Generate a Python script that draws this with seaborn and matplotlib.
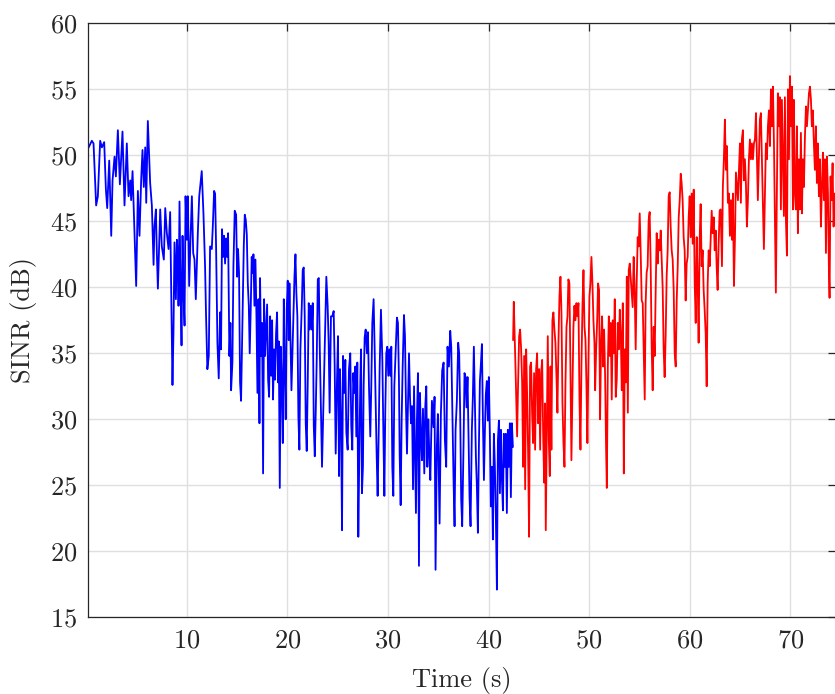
import matplotlib
matplotlib.use("Agg")
import matplotlib.pyplot as plt
import pandas as pd
import seaborn as sns

# --- first half of the drive (blue) ---
t_first = [
    0.17, 0.55, 0.72, 0.98, 1.15, 1.38, 1.55, 1.78, 1.95, 2.08, 2.28, 2.48, 2.61, 2.81, 2.94,
    3.14, 3.34, 3.60, 3.80, 4.03, 4.20, 4.37, 4.46, 4.60, 4.80, 4.96, 5.13, 5.29, 5.46, 5.59,
    5.72, 5.86, 5.96, 6.12, 6.35, 6.52, 6.69, 6.78, 6.92, 7.02, 7.12, 7.25, 7.35, 7.51, 7.71,
    7.85, 8.01, 8.18, 8.34, 8.44, 8.57, 8.67, 8.77, 8.91, 9.01, 9.11, 9.17, 9.27, 9.37, 9.47,
    9.57, 9.67, 9.77, 9.87, 10.00, 10.10, 10.23, 10.36, 10.50, 10.63, 10.76, 10.89, 11.09, 11.23,
    11.48, 11.65, 11.81, 11.91, 12.04, 12.18, 12.31, 12.48, 12.58, 12.71, 12.81, 12.91, 13.04,
    13.17, 13.31, 13.40, 13.50, 13.60, 13.70, 13.80, 13.90, 14.00, 14.10, 14.23, 14.33, 14.40,
    14.53, 14.63, 14.76, 14.90, 15.00, 15.09, 15.19, 15.29, 15.39, 15.49, 15.56, 15.66, 15.76,
    15.86, 15.96, 16.06, 16.16, 16.25, 16.35, 16.45, 16.55, 16.62, 16.72, 16.82, 16.92, 17.02,
    17.12, 17.22, 17.28, 17.38, 17.48, 17.58, 17.68, 17.78, 17.88, 17.98, 18.08, 18.18, 18.28,
    18.38, 18.48, 18.57, 18.67, 18.77, 18.87, 18.97, 19.07, 19.14, 19.24, 19.34, 19.44, 19.54,
    19.64, 19.73, 19.83, 19.93, 20.03, 20.13, 20.20, 20.30, 20.40, 20.50, 20.60, 20.70, 20.80,
    20.89, 20.99, 21.09, 21.19, 21.29, 21.43, 21.52, 21.62, 21.72, 21.82, 21.92, 22.02, 22.12,
    22.22, 22.32, 22.42, 22.52, 22.62, 22.72, 22.82, 22.92, 23.02, 23.12, 23.22, 23.44, 23.67,
    23.87, 24.00, 24.10, 24.20, 24.33, 24.46, 24.60, 24.70, 24.80, 24.93, 25.03, 25.13, 25.23,
    25.33, 25.43, 25.53, 25.66, 25.76, 25.86, 25.99, 26.12, 26.25, 26.35, 26.45, 26.55, 26.65,
    26.75, 26.85, 26.95, 27.05, 27.15, 27.25, 27.32, 27.41, 27.51, 27.58, 27.68, 27.78, 27.91,
    28.01, 28.11, 28.24, 28.34, 28.44, 28.57, 28.67, 28.77, 28.87, 28.97, 29.07, 29.17, 29.30,
    29.44, 29.54, 29.64, 29.73, 29.83, 29.93, 30.03, 30.13, 30.23, 30.33, 30.43, 30.53, 30.63,
    30.76, 30.89, 30.99, 31.09, 31.16, 31.26, 31.36, 31.46, 31.59, 31.69, 31.79, 31.89, 31.99,
    32.09, 32.19, 32.29, 32.39, 32.49, 32.59, 32.68, 32.78, 32.88, 32.98, 33.08, 33.18, 33.28,
    33.38, 33.48, 33.61, 33.71, 33.81, 33.91, 34.01, 34.11, 34.21, 34.37, 34.53, 34.63, 34.73,
    34.86, 34.96, 35.13, 35.26, 35.39, 35.53, 35.66, 35.79, 35.92, 36.06, 36.19, 36.29, 36.39,
    36.52, 36.62, 36.72, 36.85, 36.98, 37.08, 37.18, 37.28, 37.38, 37.51, 37.61, 37.71, 37.81,
    37.91, 38.01, 38.11, 38.21, 38.34, 38.44, 38.54, 38.64, 38.74, 38.84, 38.94, 39.04, 39.14,
    39.24, 39.34, 39.44, 39.54, 39.64, 39.73, 39.83, 39.93, 40.03, 40.13, 40.23, 40.33, 40.43,
    40.53, 40.63, 40.73, 40.83, 40.93, 41.03, 41.13, 41.23, 41.33, 41.43, 41.52, 41.62, 41.72,
    41.82, 41.92, 42.02, 42.12, 42.22, 42.32, 42.42,
]
sinr_first = [
    50.5, 51.1, 50.9, 46.2, 46.9, 51.1, 50.6, 51.0, 47.4, 46.0, 49.6, 43.9, 48.1, 49.9, 48.4,
    51.9, 47.8, 51.8, 46.2, 50.9, 46.9, 48.1, 46.6, 48.8, 43.9, 40.1, 47.3, 43.9, 48.2, 50.4,
    47.6, 50.6, 46.4, 52.6, 47.9, 46.2, 41.7, 44.6, 45.9, 42.5, 39.9, 43.4, 45.9, 43.1, 42.1,
    46.0, 44.1, 42.9, 45.7, 40.2, 32.6, 36.6, 43.4, 39.1, 43.6, 42.1, 38.6, 46.5, 40.1, 35.6,
    43.9, 39.6, 37.1, 46.9, 43.6, 46.9, 40.1, 43.6, 46.9, 42.6, 42.1, 39.1, 44.1, 46.9,
    48.8, 45.6, 41.6, 37.8, 33.8, 34.8, 43.1, 42.9, 44.6, 47.3, 47.1, 42.9, 35.8,
    33.1, 38.1, 35.3, 44.4, 42.3, 43.9, 41.8, 43.7, 42.3, 44.1, 34.8, 37.3, 32.2,
    34.3, 41.6, 45.8, 45.5, 40.8, 42.9, 41.1, 32.8, 31.4, 35.8, 38.8, 43.1, 45.5,
    45.1, 44.0, 40.3, 38.6, 35.0, 38.3, 42.3, 41.1, 42.5, 38.6, 42.1, 37.8, 32.0,
    39.1, 29.7, 40.7, 34.8, 37.3, 25.9, 39.1, 34.8, 36.8, 38.7, 33.0, 31.7, 37.8,
    33.3, 37.5, 31.5, 35.3, 33.0, 36.5, 38.1, 32.8, 35.9, 24.8, 35.5, 32.8, 28.2,
    39.1, 34.0, 30.0, 38.3, 40.5, 36.0, 40.3, 36.3, 32.2, 35.0, 38.1, 40.8, 42.5,
    39.6, 37.8, 30.2, 27.7, 35.3, 38.6, 41.3, 41.5, 37.8, 29.7, 27.6, 32.8, 38.8,
    36.8, 38.6, 36.8, 38.8, 29.5, 27.2, 30.7, 34.8, 40.6, 40.7, 35.3, 26.4, 34.3,
    40.8, 38.6, 35.8, 30.5, 37.8, 37.8, 38.2, 34.0, 27.4, 33.0, 36.3, 25.7, 33.8,
    30.0, 21.6, 34.8, 32.0, 34.5, 29.0, 27.7, 33.8, 35.0, 29.5, 27.7, 33.5, 32.0,
    34.0, 28.7, 34.3, 21.1, 27.4, 33.0, 35.3, 24.4, 26.4, 32.5, 36.2, 36.8, 35.0,
    36.6, 32.5, 28.7, 32.5, 37.3, 39.1, 35.5, 31.5, 27.4, 24.2, 28.7, 33.8, 38.3,
    34.5, 29.0, 24.2, 30.5, 35.0, 35.5, 33.3, 35.3, 33.3, 35.5, 26.4, 24.2, 32.5,
    35.0, 37.7, 37.3, 33.0, 27.4, 23.5, 30.0, 34.0, 37.9, 36.3, 31.0, 27.4, 31.3,
    35.0, 31.7, 29.7, 31.0, 24.7, 32.5, 28.0, 22.9, 30.0, 33.5, 18.9, 32.0, 28.7,
    26.9, 30.8, 25.9, 31.0, 32.5, 26.4, 30.0, 27.4, 25.4, 31.4, 29.4, 31.7, 18.6,
    27.9, 30.4, 22.1, 30.4, 33.7, 34.3, 28.4, 26.4, 35.5, 34.0, 36.7, 35.5, 30.9,
    25.4, 21.9, 29.2, 31.4, 35.8, 35.0, 30.4, 23.9, 21.9, 27.9, 33.5, 33.2, 30.9,
    33.2, 28.4, 24.1, 21.9, 29.2, 31.7, 35.5, 31.2, 27.2, 24.9, 21.4, 27.9, 32.9,
    34.2, 35.7, 29.9, 25.4, 29.2, 31.9, 32.9, 29.9, 33.2, 28.9, 23.4, 26.4, 20.9,
    28.9, 26.4, 22.4, 17.1, 28.4, 29.9, 24.4, 29.2, 25.4, 23.1, 28.9, 26.4, 28.9,
    22.9, 29.2, 26.4, 29.7, 24.1, 29.7, 27.9,
]

# --- second half of the drive (red) ---
t_second = [
    42.44, 42.51, 42.61, 42.71, 42.84, 42.94, 43.04, 43.14, 43.24, 43.34, 43.44, 43.54, 43.64,
    43.74, 43.84, 43.93, 44.03, 44.13, 44.23, 44.33, 44.43, 44.53, 44.63, 44.73, 44.83, 44.93,
    45.03, 45.13, 45.23, 45.33, 45.43, 45.53, 45.62, 45.69, 45.79, 45.89, 45.99, 46.09, 46.16,
    46.25, 46.35, 46.45, 46.55, 46.65, 46.75, 46.85, 46.95, 47.05, 47.15, 47.25, 47.35, 47.45,
    47.55, 47.65, 47.75, 47.85, 47.94, 48.04, 48.14, 48.24, 48.34, 48.44, 48.54, 48.64, 48.74,
    48.84, 48.94, 49.04, 49.14, 49.24, 49.34, 49.44, 49.54, 49.64, 49.73, 49.83, 49.93, 50.03,
    50.13, 50.23, 50.33, 50.43, 50.53, 50.60, 50.70, 50.80, 50.89, 50.99, 51.09, 51.19, 51.29,
    51.39, 51.49, 51.59, 51.69, 51.76, 51.86, 51.96, 52.06, 52.15, 52.25, 52.35, 52.45, 52.55,
    52.65, 52.75, 52.85, 52.95, 53.05, 53.15, 53.25, 53.35, 53.45, 53.55, 53.65, 53.75, 53.85,
    53.94, 54.04, 54.33, 54.43, 54.53, 54.63, 54.73, 54.83, 54.93, 55.03, 55.13, 55.23, 55.33,
    55.43, 55.53, 55.62, 55.72, 55.82, 55.92, 56.02, 56.12, 56.22, 56.32, 56.42, 56.52, 56.62,
    56.72, 56.82, 56.92, 57.02, 57.12, 57.22, 57.32, 57.41, 57.51, 57.61, 57.71, 57.81, 57.91,
    58.01, 58.11, 58.21, 58.31, 58.41, 58.51, 58.61, 58.71, 58.81, 58.91, 59.01, 59.11, 59.20,
    59.30, 59.40, 59.50, 59.60, 59.70, 59.80, 59.90, 60.00, 60.10, 60.20, 60.30, 60.40, 60.50,
    60.60, 60.70, 60.80, 60.89, 60.99, 61.09, 61.19, 61.29, 61.39, 61.49, 61.59, 61.69, 61.79,
    61.89, 61.99, 62.09, 62.19, 62.29, 62.39, 62.49, 62.59, 62.68, 62.78, 62.88, 62.98, 63.08,
    63.21, 63.30, 63.40, 63.50, 63.60, 63.70, 63.80, 63.90, 64.00, 64.10, 64.20, 64.30, 64.40,
    64.50, 64.60, 64.70, 64.80, 64.90, 65.00, 65.09, 65.19, 65.29, 65.39, 65.49, 65.59, 65.69,
    65.79, 65.89, 65.99, 66.09, 66.19, 66.29, 66.39, 66.49, 66.59, 66.69, 66.78, 66.88, 66.98,
    67.08, 67.18, 67.28, 67.38, 67.48, 67.58, 67.68, 67.78, 67.88, 67.98, 68.08, 68.18, 68.28,
    68.38, 68.48, 68.57, 68.67, 68.77, 68.87, 68.97, 69.07, 69.17, 69.27, 69.37, 69.47, 69.57,
    69.67, 69.77, 69.87, 69.97, 70.07, 70.17, 70.27, 70.36, 70.46, 70.56, 70.66, 70.76, 70.86,
    70.96, 71.06, 71.16, 71.26, 71.36, 71.46, 71.56, 71.66, 71.76, 71.86, 71.96, 72.06, 72.15,
    72.25, 72.35, 72.45, 72.55, 72.65, 72.75, 72.85, 72.95, 73.05, 73.15, 73.25, 73.35, 73.45,
    73.55, 73.65, 73.75, 73.84, 73.91, 74.01, 74.11, 74.21, 74.31, 74.41, 74.55,
]
sinr_second = [
    36.0, 38.9, 36.0, 33.0, 28.7, 32.8, 36.3, 36.8, 35.3, 32.8, 26.4, 34.8, 24.7,
    35.3, 31.7, 27.7, 21.1, 34.0, 34.3, 30.5, 28.2, 33.5, 27.7, 33.8, 35.0, 29.7,
    33.8, 27.7, 33.5, 34.5, 28.9, 25.2, 31.2, 21.6, 28.9, 36.3, 28.5, 25.7, 34.0,
    27.7, 37.5, 38.1, 36.8, 35.8, 33.3, 30.5, 35.8, 39.3, 40.8, 38.1, 31.2, 28.2,
    26.4, 32.8, 37.0, 37.8, 40.6, 40.3, 34.0, 26.9, 32.2, 37.0, 38.6, 37.5, 38.8,
    37.8, 38.8, 31.5, 27.7, 34.3, 38.6, 41.3, 37.0, 36.0, 32.8, 28.2, 34.3, 39.3,
    40.3, 42.3, 40.3, 37.5, 35.8, 32.2, 35.3, 37.5, 40.3, 39.8, 30.0, 35.6, 37.8,
    34.0, 36.8, 33.3, 27.7, 24.8, 34.0, 37.8, 34.8, 37.3, 31.5, 37.5, 35.0, 39.1,
    31.7, 33.0, 37.3, 35.3, 38.3, 36.3, 32.2, 38.8, 25.9, 35.3, 32.8, 40.8, 30.5,
    41.3, 41.8, 38.5, 42.3, 39.8, 35.3, 40.3, 43.8, 43.1, 45.6, 42.6, 39.0, 38.8,
    35.3, 31.5, 38.8, 41.1, 41.6, 45.1, 45.7, 41.8, 35.5, 32.2, 37.0, 34.8, 39.8,
    44.1, 41.8, 43.6, 42.8, 44.3, 42.1, 39.8, 35.3, 33.2, 36.3, 40.8, 42.8, 46.9,
    47.2, 44.6, 42.8, 42.1, 39.8, 35.0, 34.0, 39.0, 41.6, 45.3, 46.6, 48.6, 47.9,
    46.6, 43.8, 42.8, 39.0, 41.8, 42.3, 45.3, 46.9, 43.8, 47.1, 43.3, 47.4, 40.3,
    37.3, 43.8, 40.3, 35.8, 43.6, 46.3, 41.6, 42.8, 39.8, 38.3, 36.5, 32.5, 40.3,
    42.8, 41.6, 43.6, 45.8, 44.1, 45.3, 42.8, 44.3, 41.6, 39.8, 43.3, 45.8, 45.9,
    41.6, 47.6, 49.7, 52.7, 48.9, 50.7, 46.4, 47.1, 43.9, 46.6, 43.6, 47.1, 40.1,
    43.6, 48.7, 47.6, 46.6, 48.9, 50.9, 46.4, 51.2, 51.9, 48.1, 49.7, 47.9, 44.6,
    46.6, 49.7, 51.2, 49.7, 50.9, 49.7, 50.9, 51.2, 53.2, 49.7, 46.6, 49.7, 52.7,
    53.2, 49.7, 46.4, 42.9, 47.1, 50.9, 49.7, 52.2, 53.4, 50.7, 55.0, 52.2, 55.2,
    50.9, 45.1, 39.6, 47.1, 54.7, 52.2, 54.4, 45.9, 54.2, 49.7, 45.4, 54.4, 45.1,
    42.4, 55.0, 49.7, 56.0, 52.2, 55.2, 45.9, 54.2, 47.1, 45.9, 52.2, 44.1, 49.7,
    45.9, 51.7, 45.6, 49.7, 47.6, 51.4, 53.7, 52.2, 53.4, 54.7, 55.2, 54.2, 52.2,
    53.4, 50.9, 48.9, 52.2, 47.9, 50.9, 46.9, 49.7, 44.6, 47.6, 50.2, 46.6, 49.7,
    42.6, 49.9, 47.1, 41.6, 39.2, 48.4, 46.6, 49.4, 44.6, 47.1, 45.0,
]

segment_names = ["first", "second"]
segment_colors = ["#0000ff", "#ff0000"]
x_ticks = [10, 20, 30, 40, 50, 60, 70]
y_ticks = [15, 20, 25, 30, 35, 40, 45, 50, 55, 60]

df = pd.concat([
    pd.DataFrame({"Time": t_first, "SINR": sinr_first, "segment": segment_names[0]}),
    pd.DataFrame({"Time": t_second, "SINR": sinr_second, "segment": segment_names[1]}),
], ignore_index=True)

sns.set_style("white")
plt.rcParams["font.family"] = ["cmr10", "DejaVu Serif"]
plt.rcParams["axes.formatter.use_mathtext"] = True
plt.rcParams["mathtext.fontset"] = "cm"

fig = plt.figure(figsize=(8.35, 6.94), dpi=100)
ax = fig.add_axes([88 / 835, (694 - 617.3) / 694, (836 - 88) / 835, (617.3 - 23.3) / 694])

sns.lineplot(data=df, x="Time", y="SINR", hue="segment", palette=segment_colors,
             estimator=None, sort=False, linewidth=1.3, legend=False, ax=ax)

ax.set_xlim(t_first[0], t_second[-1])
ax.set_ylim(15, 60)
ax.set_xticks(x_ticks)
ax.set_yticks(y_ticks)
ax.grid(True, color="#dfdfdf", linewidth=1.0)
ax.set_axisbelow(True)

edge = "#262626"
for side in ["left", "bottom", "top", "right"]:
    ax.spines[side].set_visible(True)
    ax.spines[side].set_color(edge)
    ax.spines[side].set_linewidth(0.9)
ax.tick_params(direction="in", length=6, width=0.9, colors=edge, labelsize=19,
               top=True, right=True, pad=8)
ax.set_xlabel("Time (s)", fontsize=19, color=edge, labelpad=11)
ax.set_ylabel("SINR (dB)", fontsize=19, color=edge, labelpad=9)

fig.savefig("out.png", dpi=100)
